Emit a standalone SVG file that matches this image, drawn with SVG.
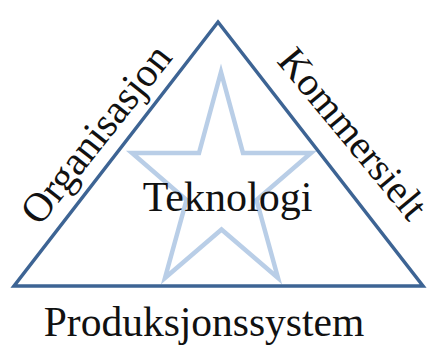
<svg xmlns="http://www.w3.org/2000/svg" width="436" height="345" viewBox="0 0 436 345">
  <style>
    .lbl { font-family: "Liberation Serif", "Times New Roman", serif; font-size: 41px; fill: #111111; text-anchor: middle; }
    .tri { fill: none; stroke: #3d6494; stroke-width: 3.5; stroke-linejoin: miter; }
    .star { fill: none; stroke: #b9cee7; stroke-width: 4.5; stroke-linejoin: miter; }
  </style>
  <rect width="436" height="345" fill="#ffffff"/>
  <g id="star">
    <polygon class="star" points="221,72 243,153 311,153 256.5,200 278,278 221.5,229.5 165,278 186.5,200 132,153 199,153"/>
  </g>
  <g id="triangle">
    <polygon class="tri" points="218,22 423,286 14,286"/>
  </g>
  <g id="teknologi">
    <text class="lbl" x="227.5" y="211" style="font-size:42px">Teknologi</text>
  </g>
  <g id="organisasjon">
    <text class="lbl" transform="translate(106.5,142.5) rotate(-51.6)">Organisasjon</text>
  </g>
  <g id="kommersielt">
    <text class="lbl" transform="translate(342.5,142) rotate(50.4)" style="font-size:40px">Kommersielt</text>
  </g>
  <g id="produksjonssystem">
    <text class="lbl" x="204" y="336" style="font-size:41.5px">Produksjonssystem</text>
  </g>
  <g id="connectors"></g>
</svg>
